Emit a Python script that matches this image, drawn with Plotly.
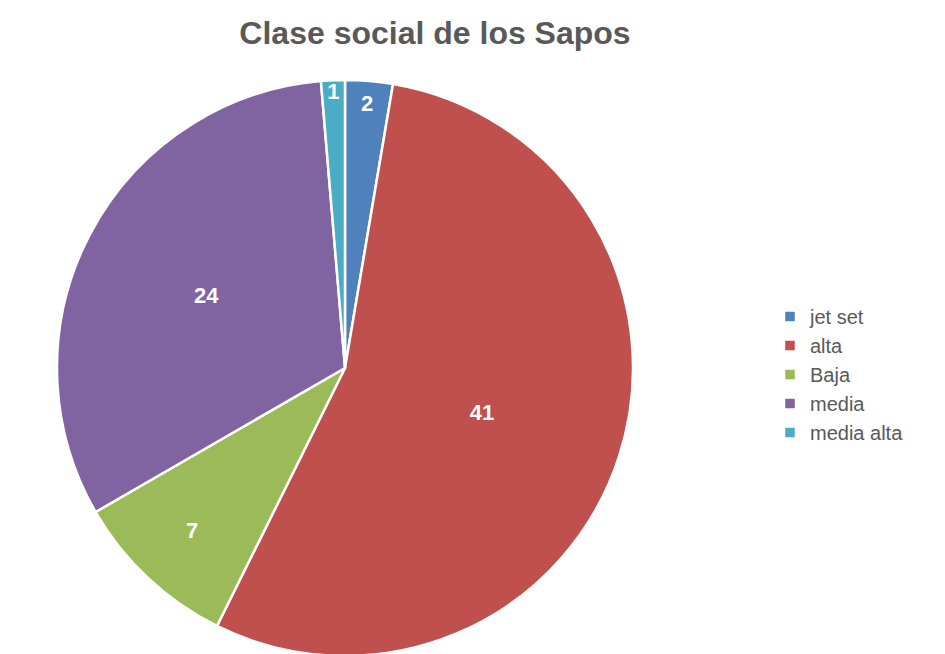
import plotly.graph_objects as go

categories = ["jet set", "alta", "Baja", "media", "media alta"]
values = [2, 41, 7, 24, 1]
colors = ["#4F81BD", "#C0504D", "#9BBB59", "#8064A2", "#4BACC6"]

W, H = 945, 654
cx, cy, r = 337, 360, 288

fig = go.Figure(go.Pie(
    labels=categories,
    values=values,
    sort=False,
    direction="clockwise",
    rotation=0,
    marker=dict(colors=colors, line=dict(color="white", width=2.5)),
    textinfo="value",
    textposition="inside",
    insidetextorientation="horizontal",
    textfont=dict(family="Liberation Sans, Arial", size=22, color="white", weight="bold"),
    domain=dict(x=[(cx - r) / W, (cx + r) / W], y=[(H - cy - r) / H, (H - cy + r) / H]),
    hoverinfo="label+value",
))

fig.update_layout(
    width=W, height=H,
    margin=dict(l=0, r=0, t=0, b=0),
    paper_bgcolor="white",
    title=dict(text="<b>Clase social de los Sapos</b>", x=427 / W, xanchor="center",
               y=1 - 25 / H, yanchor="middle",
               font=dict(family="Liberation Sans, Arial", size=32, color="#595959")),
    legend=dict(x=762 / W, xanchor="left", y=1 - 289 / H, yanchor="top",
                font=dict(family="Liberation Sans, Arial", size=20, color="#595959"),
                tracegroupgap=0, itemwidth=30, bgcolor="rgba(0,0,0,0)"),
    uniformtext=dict(minsize=22, mode="show"),
)

fig.write_html("out.html")
